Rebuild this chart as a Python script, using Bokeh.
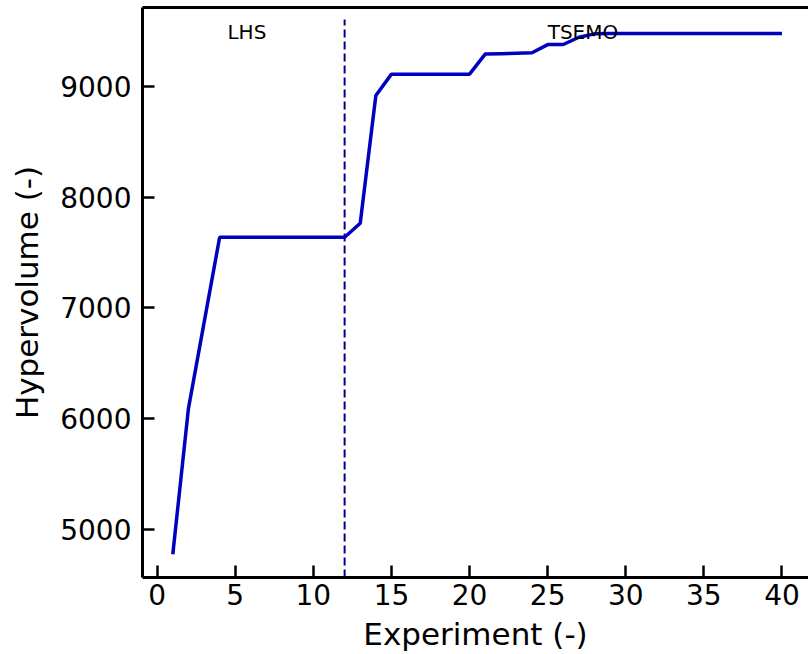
from bokeh.plotting import figure
from bokeh.models import Range1d, LinearAxis, FixedTicker, Label
from bokeh.embed import file_html
from bokeh.resources import INLINE

experiments = list(range(1, 41))
hypervolume = [4775, 6090, 6865, 7639, 7639, 7639, 7639, 7639, 7639, 7639,
               7639, 7639, 7765, 8919, 9112, 9112, 9112, 9112, 9112, 9112,
               9293, 9297, 9301, 9305, 9379, 9380, 9445, 9476, 9480, 9480,
               9480, 9480, 9480, 9480, 9480, 9480, 9480, 9480, 9480, 9480]
switch_x = [12, 12]
switch_y = [4565, 9605]
x_ticks = [0, 5, 10, 15, 20, 25, 30, 35, 40]
y_ticks = [5000, 6000, 7000, 8000, 9000]
phase_labels = ["LHS", "TSEMO"]
phase_x = [4.5, 25.0]
phase_y = [9497, 9497]

FONT = "DejaVu Sans"

p = figure(width=808, height=654, output_backend="svg", toolbar_location=None,
           x_range=Range1d(-0.94, 41.70), y_range=Range1d(4565, 9714),
           min_border_left=142, min_border_right=0, min_border_top=7,
           min_border_bottom=77)
p.outline_line_color = None
p.grid.visible = False
p.background_fill_color = "white"
p.border_fill_color = "white"

for ax in (p.xaxis[0], p.yaxis[0]):
    ax.axis_line_width = 3
    ax.axis_line_color = "black"
    ax.major_tick_in = 12
    ax.major_tick_out = 0
    ax.major_tick_line_width = 2.5
    ax.minor_tick_line_color = None
    ax.major_label_text_font = FONT
    ax.major_label_text_font_size = "28px"
    ax.major_label_text_color = "black"
    ax.axis_label_text_font = FONT
    ax.axis_label_text_font_size = "31px"
    ax.axis_label_text_font_style = "normal"
    ax.axis_label_text_color = "black"

p.xaxis[0].ticker = FixedTicker(ticks=x_ticks)
p.yaxis[0].ticker = FixedTicker(ticks=y_ticks)
p.xaxis[0].axis_label = "Experiment (-)"
p.yaxis[0].axis_label = "Hypervolume (-)"
p.xaxis[0].major_label_standoff = 6
p.xaxis[0].axis_label_standoff = 8
p.yaxis[0].major_label_standoff = 11
p.yaxis[0].axis_label_standoff = 12

top = LinearAxis(ticker=FixedTicker(ticks=[]), axis_line_width=3,
                 axis_line_color="black", major_tick_line_color=None,
                 minor_tick_line_color=None, major_label_text_font_size="0px")
p.add_layout(top, "above")

p.line(switch_x, switch_y, line_color="#00008B", line_width=2, line_dash="8 4")
p.line(experiments, hypervolume, line_color="#0000C0", line_width=3.5)

for t, x, y in zip(phase_labels, phase_x, phase_y):
    p.add_layout(Label(x=x, y=y, text=t, text_font=FONT, text_font_size="20px",
                       text_color="black", text_baseline="alphabetic"))

open("out.html", "w").write(file_html(p, INLINE))
